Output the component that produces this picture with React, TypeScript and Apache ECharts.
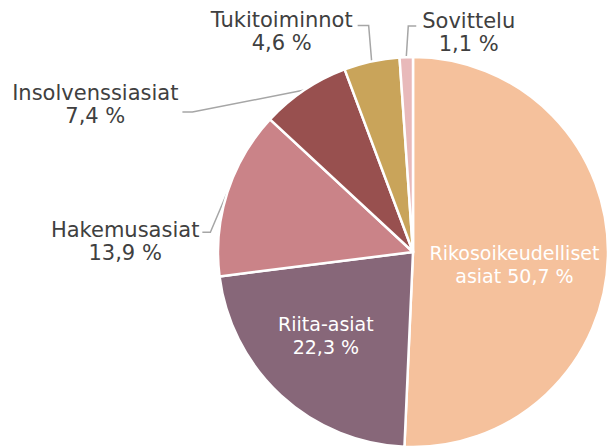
import { useEffect, useRef } from 'react';
import * as echarts from 'echarts';

// ---- data ----
const categories = [
  'Rikosoikeudelliset asiat',
  'Riita-asiat',
  'Hakemusasiat',
  'Insolvenssiasiat',
  'Tukitoiminnot',
  'Sovittelu',
];
const shares = [50.7, 22.3, 13.9, 7.4, 4.6, 1.1];
const sliceColors = ['#F5C19C', '#876779', '#CA8388', '#98504F', '#C9A45A', '#E8B9BA'];
const labelInside = [true, true, false, false, false, false];

// ---- label placement tweaks (pixels, relative to the library's default anchors) ----
type Placement =
  | { dx: number; dy: number }
  | { elbow: [number, number]; tail: number; gap: number; dy: number };
const placements: Placement[] = [
  { dx: 1, dy: 10 },
  { dx: -19, dy: 10 },
  { elbow: [-17, 40], tail: -8, gap: 3, dy: 9 },
  { elbow: [-112, 22], tail: -10, gap: 4, dy: -8 },
  { elbow: [-3, -36], tail: -11, gap: 5, dy: 6 },
  { elbow: [2, -31], tail: 8, gap: 6, dy: 6 },
];

const fmtPct = (v: number) => v.toFixed(1).replace('.', ',') + ' %';

export default function App() {
  const ref = useRef<HTMLDivElement>(null);
  useEffect(() => {
    if (!ref.current) return;
    const chart = echarts.init(ref.current, undefined, { renderer: 'svg' });
    const data = categories.map((name, i) => ({
      name,
      value: shares[i],
      itemStyle: { color: sliceColors[i] },
      label: labelInside[i]
        ? {
            position: 'inside',
            color: '#ffffff',
            fontSize: 19,
            lineHeight: 23,
          }
        : { position: 'outside' },
      labelLine: { show: !labelInside[i] },
    }));
    chart.setOption({
      animation: false,
      backgroundColor: '#ffffff',
      series: [
        {
          type: 'pie',
          center: [413, 252],
          radius: 195,
          startAngle: 90,
          clockwise: true,
          avoidLabelOverlap: false,
          silent: true,
          itemStyle: { borderColor: '#ffffff', borderWidth: 2.5 },
          label: {
            show: true,
            fontFamily: 'DejaVu Sans',
            fontSize: 21,
            lineHeight: 23,
            color: '#404040',
            formatter: (p: any) => {
              const pct = fmtPct(p.value);
              return p.name.includes(' ')
                ? p.name.replace(' ', '\n') + ' ' + pct
                : p.name + '\n' + pct;
            },
          },
          labelLine: {
            show: true,
            length: 10,
            length2: 10,
            lineStyle: { color: '#a6a6a6', width: 1.5 },
          },
          labelLayout: (p: any) => {
            const cfg: any = placements[p.dataIndex];
            const r = p.labelRect;
            if (cfg.elbow === undefined) {
              return {
                x: r.x + r.width / 2 + cfg.dx,
                y: r.y + r.height / 2 + cfg.dy,
                align: 'center',
                verticalAlign: 'middle',
              };
            }
            const a = p.labelLinePoints[0];
            const b = [a[0] + cfg.elbow[0], a[1] + cfg.elbow[1]];
            const c = [b[0] + cfg.tail, b[1]];
            const dir = cfg.tail < 0 ? -1 : 1;
            return {
              x: c[0] + dir * (cfg.gap + r.width / 2),
              y: c[1] + cfg.dy,
              align: 'center',
              verticalAlign: 'middle',
              labelLinePoints: [a, b, c],
            };
          },
          data,
        },
      ],
    });
    return () => chart.dispose();
  }, []);
  return (
    <div
      ref={ref}
      style={{ position: 'absolute', left: 0, top: 0, width: 608, height: 447 }}
    />
  );
}
